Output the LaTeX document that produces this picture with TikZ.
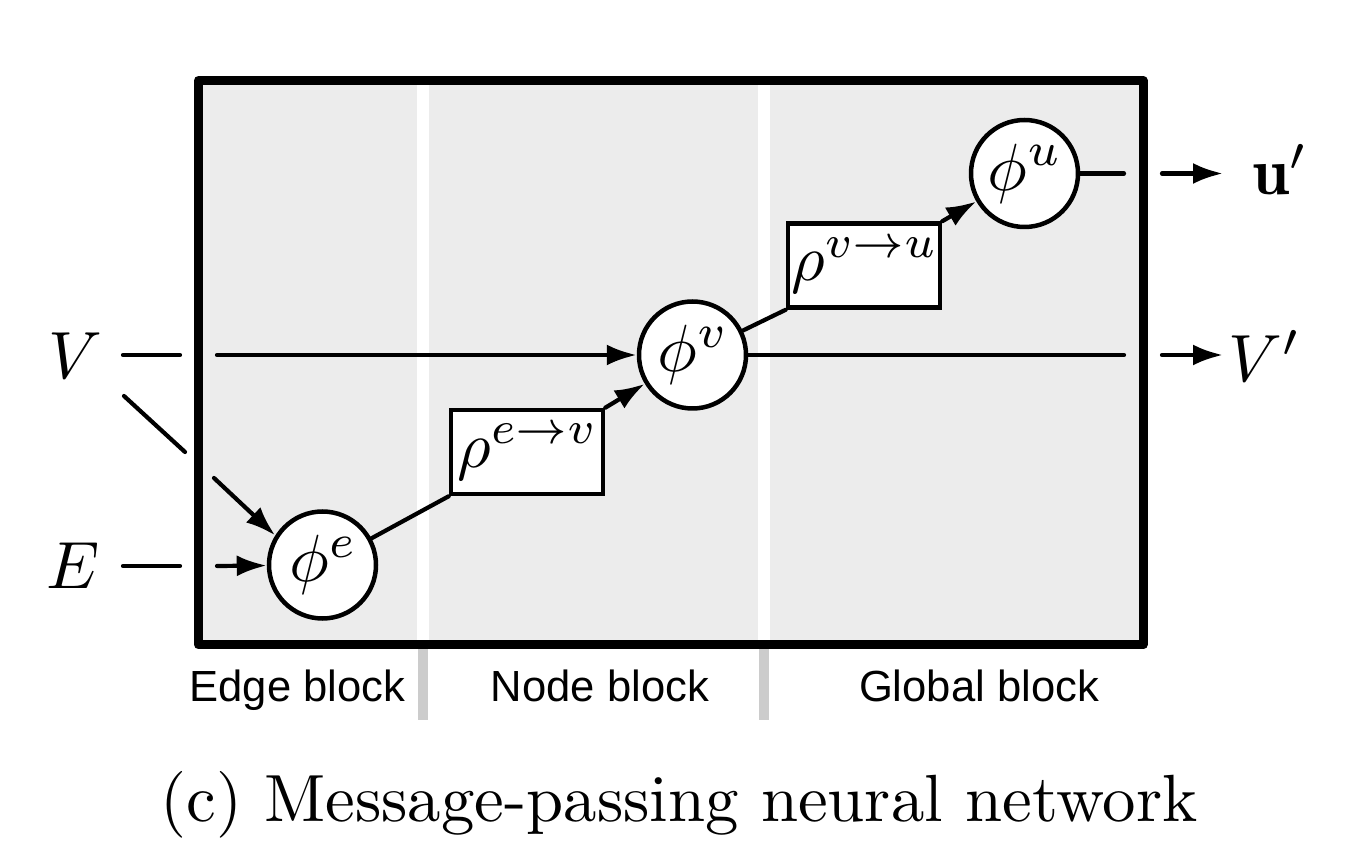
\RequirePackage{fix-cm}
\documentclass[tikz,border=0pt]{standalone}
\usepackage{fontspec}
\usepackage{xcolor}
\usetikzlibrary{arrows.meta, positioning, calc}

% math glyphs in the 10pt/7pt/5pt designs, as in a scaled-up 10pt figure
\DeclareFontShape{OML}{cmm}{m}{it}{<-11> cmmi5 <11-16> cmmi7 <16-> cmmi10}{}
\DeclareFontShape{OMS}{cmsy}{m}{n}{<-11> cmsy5 <11-16> cmsy7 <16-> cmsy10}{}
\DeclareFontShape{OT1}{cmr}{bx}{n}{<-11> cmbx5 <11-16> cmbx7 <16-> cmbx10}{}

\newfontfamily\blockfont{Liberation Sans}
\newfontfamily\capfont{lmroman10-regular.otf}
\definecolor{panelgray}{RGB}{236,236,236}
\definecolor{sepgray}{RGB}{204,204,204}

\tikzset{
    fn/.style={circle, draw, fill=white, line width=0.045cm, minimum size=1.07cm, inner sep=0pt, font=\fontsize{19}{22}\selectfont},
    agg/.style={rectangle, draw, fill=white, line width=0.045cm, minimum width=1.52cm, minimum height=0.84cm, inner sep=0pt, font=\fontsize{18.5}{22}\selectfont},
    conn/.style={line width=0.042cm, line cap=round},
    arr/.style={conn, -{Latex[length=3mm,width=2.1mm]}},
    blocklabel/.style={anchor=base, font=\blockfont\fontsize{12.4}{14}\selectfont},
    mathlabel/.style={font=\fontsize{19}{22}\selectfont}
}

\begin{document}
\begin{tikzpicture}
    \useasboundingbox (0,0) rectangle (13.56,8.54);

    % Panel with block separators
    \fill[panelgray] (1.985,7.735) rectangle (11.43,2.09);
    \draw[white, line width=0.12cm] (4.23,7.735) -- (4.23,2.09);
    \draw[white, line width=0.12cm] (7.64,7.735) -- (7.64,2.09);
    \draw[sepgray, line width=0.10cm] (4.23,2.09) -- (4.23,1.34);
    \draw[sepgray, line width=0.10cm] (7.64,2.09) -- (7.64,1.34);
    \draw[line width=0.09cm, line join=round] (1.985,7.735) rectangle (11.43,2.09);

    % Block labels
    \node[blocklabel] (edgelbl) at (2.975,1.52) {Edge block};
    \node[blocklabel] (nodelbl) at (6.00,1.52) {Node block};
    \node[blocklabel] (globlbl) at (9.79,1.52) {Global block};

    % Update and aggregation functions
    \node[fn] (phie) at (3.225,2.89) {$\phi^e$};
    \node[agg] (rhoev) at (5.27,4.02) {$\rho^{e\rightarrow v}$};
    \node[fn] (phiv) at (6.925,4.99) {$\phi^v$};
    \node[agg] (rhovu) at (8.64,5.885) {$\rho^{v\rightarrow u}$};
    \node[fn] (phiu) at (10.245,6.805) {$\phi^u$};

    % Inputs
    \node[mathlabel] (vin) at (0.75,4.98) {$V$};
    \node[mathlabel] (ein) at (0.73,2.88) {$E$};
    \coordinate (va) at (1.23,4.99);
    \coordinate (vb) at (1.80,4.99);
    \coordinate (vc) at (2.17,4.99);
    \coordinate (da) at (1.24,4.58);
    \coordinate (db) at (1.85,4.02);
    \coordinate (dc) at (2.14,3.76);
    \coordinate (ea) at (1.23,2.88);
    \coordinate (eb) at (1.80,2.88);
    \coordinate (ec) at (2.17,2.88);

    % Outputs
    \node[mathlabel] (vout) at (12.64,4.98) {$V'$};
    \node[mathlabel] (uout) at (12.80,6.84) {$\mathbf{u}'$};
    \coordinate (voa) at (11.24,4.99);
    \coordinate (vob) at (11.62,4.99);
    \coordinate (voc) at (12.23,4.99);
    \coordinate (uoa) at (11.24,6.805);
    \coordinate (uob) at (11.62,6.805);
    \coordinate (uoc) at (12.23,6.805);

    \draw[conn] (va) -- (vb);
    \draw[arr] (vc) -- (phiv);
    \draw[conn] (da) -- (db);
    \draw[arr] (dc) -- (phie.148);
    \draw[conn] (ea) -- (eb);
    \draw[arr] (ec) -- (phie);

    \draw[conn] (phie) -- (rhoev.south west);
    \draw[arr] (rhoev.north east) -- (phiv);
    \draw[conn] (phiv) -- (rhovu.south west);
    \draw[arr] (rhovu.north east) -- (phiu);

    \draw[conn] (phiv) -- (voa);
    \draw[arr] (vob) -- (voc);
    \draw[conn] (phiu) -- (uoa);
    \draw[arr] (uob) -- (uoc);

    % Caption
    \node[anchor=base, font=\capfont\fontsize{19}{22}\selectfont] (caption) at (6.79,0.32) {(c) Message-passing neural network};
\end{tikzpicture}
\end{document}
